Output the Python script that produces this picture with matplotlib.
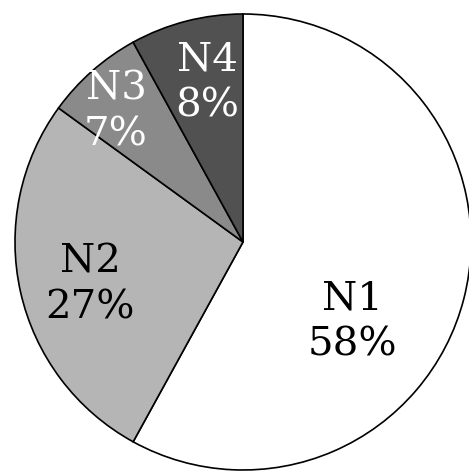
import matplotlib
matplotlib.use('Agg')
import matplotlib.pyplot as plt

# Share of each group
labels = ['N1', 'N2', 'N3', 'N4']
shares = [58, 27, 7, 8]
colors = ['#ffffff', '#b5b5b5', '#8a8a8a', '#515151']
text_colors = ['black', 'black', 'white', 'white']

# Label positions inside each wedge (data units, radius 1)
label_pos = [(0.478, -0.351), (-0.671, -0.189), (-0.557, 0.570), (-0.158, 0.697)]

fig = plt.figure(figsize=(4.69, 4.73), dpi=100)
ax = fig.add_axes([0, 0, 1, 1])

ax.pie(shares, colors=colors, startangle=90, counterclock=False,
       wedgeprops=dict(edgecolor='black', linewidth=1.2))

for lab, val, pos, tc in zip(labels, shares, label_pos, text_colors):
    ax.text(pos[0], pos[1], f"{lab}\n{val}%", ha='center', va='center',
            fontsize=29, family='DejaVu Serif', color=tc, linespacing=1.3)

# Pie centre sits at (243, 242) px with a 228 px radius
r = 228
ax.set_xlim(-243 / r, (469 - 243) / r)
ax.set_ylim(-(473 - 242) / r, 242 / r)
ax.set_aspect('equal')
ax.axis('off')

fig.savefig('out.png', dpi=100)
